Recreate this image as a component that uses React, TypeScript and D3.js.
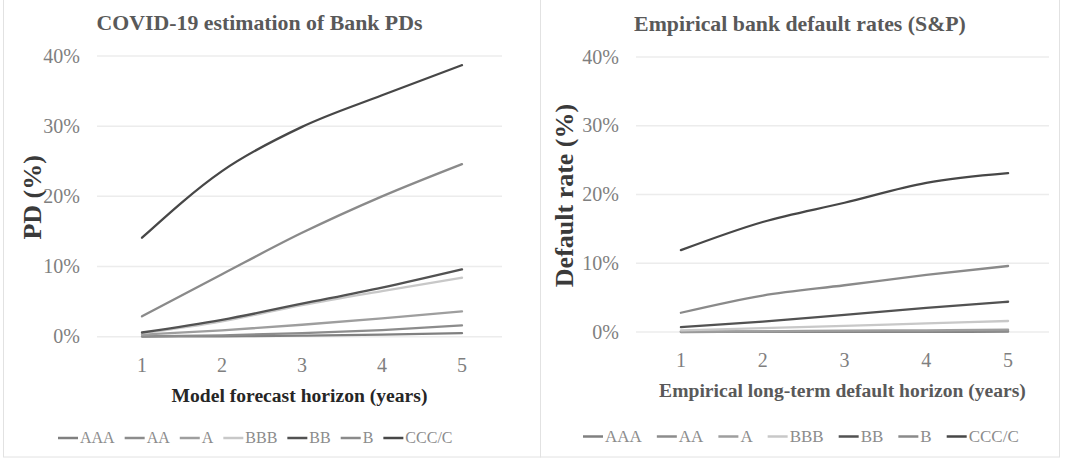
import React from 'react';
import * as d3 from 'd3';

// --- data read off the picture (values in %) ---
const horizons = [1, 2, 3, 4, 5];
const ratings = ['AAA', 'AA', 'A', 'BBB', 'BB', 'B', 'CCC/C'];
const ratingColors = ['#808080', '#8c8c8c', '#9e9e9e', '#c8c8c8', '#525252', '#8a8a8a', '#474747'];
const yTicks = [0, 10, 20, 30, 40];

// COVID-19 model PDs
const modelAAA = [0.02, 0.06, 0.15, 0.3, 0.5];
const modelAA = [0.05, 0.2, 0.5, 0.95, 1.6];
const modelA = [0.3, 0.9, 1.7, 2.6, 3.6];
const modelBBB = [0.5, 2.2, 4.5, 6.5, 8.4];
const modelBB = [0.6, 2.4, 4.7, 7.0, 9.6];
const modelB = [2.9, 8.9, 14.8, 20.0, 24.6];
const modelCCC = [14.1, 23.6, 29.9, 34.4, 38.7];

// S&P empirical default rates
const spAAA = [0.0, 0.01, 0.02, 0.03, 0.05];
const spAA = [0.02, 0.05, 0.08, 0.1, 0.15];
const spA = [0.05, 0.1, 0.2, 0.25, 0.35];
const spBBB = [0.25, 0.55, 0.9, 1.25, 1.6];
const spBB = [0.7, 1.5, 2.5, 3.5, 4.4];
const spB = [2.8, 5.3, 6.8, 8.3, 9.6];
const spCCC = [11.9, 16.0, 18.8, 21.7, 23.1];

const modelSeries = [modelAAA, modelAA, modelA, modelBBB, modelBB, modelB, modelCCC];
const spSeries = [spAAA, spAA, spA, spBBB, spBB, spB, spCCC];

const SERIF = "'Liberation Serif', 'Times New Roman', serif";

function textWidth(txt: string, font: string) {
  const ctx = document.createElement('canvas').getContext('2d');
  if (!ctx) return txt.length * 8;
  ctx.font = font;
  return ctx.measureText(txt).width;
}

interface PanelProps {
  series: number[][];
  title: string;
  titleX: number;
  titleY: number;
  yTitle: string;
  yTitleX: number;
  xTitle: string;
  xTitleColor: string;
  gridLeft: number;
  gridRight: number;
  plotLeft: number;
  y0: number;
  y40: number;
  legendX: number;
  legendY: number;
  legendSize: number;
  legendGap: number;
}

function Panel(p: PanelProps) {
  const x = d3.scalePoint<number>().domain(horizons).range([p.plotLeft, p.gridRight]).padding(0.5);
  const y = d3.scaleLinear().domain([0, 40]).range([p.y0, p.y40]);
  const line = d3.line<number>()
    .x((_, i) => x(horizons[i]) ?? 0)
    .y(d => y(d))
    .curve(d3.curveMonotoneX);
  const cx = (p.gridLeft + p.gridRight) / 2;

  const legendFont = `${p.legendSize}px ${SERIF}`;
  let lx = p.legendX;
  const legendItems = ratings.map((r, i) => {
    const item = { r, i, x: lx };
    lx += 22 + textWidth(r, legendFont) + p.legendGap;
    return item;
  });

  return (
    <g fontFamily={SERIF}>
      <text x={p.titleX} y={p.titleY} textAnchor="middle" fontSize={21.8} fontWeight="bold" fill="#595959">{p.title}</text>
      {yTicks.map(t => (
        <g key={t}>
          <line x1={p.gridLeft} x2={p.gridRight} y1={y(t)} y2={y(t)} stroke="#ececec" strokeWidth={1.5} />
          <text x={p.gridLeft - 17} y={y(t) + 6.5} textAnchor="end" fontSize={20} fill="#7f7f7f">{t}%</text>
        </g>
      ))}
      {horizons.map(h => (
        <text key={h} x={x(h)} y={p.y0 + 35} textAnchor="middle" fontSize={20} fill="#7f7f7f">{h}</text>
      ))}
      <text x={cx} y={p.y0 + 65} textAnchor="middle" fontSize={19.6} fontWeight="bold" fill={p.xTitleColor}>{p.xTitle}</text>
      <text transform={`translate(${p.yTitleX},${(p.y0 + p.y40) / 2 + 1}) rotate(-90)`} textAnchor="middle" fontSize={26} fontWeight="bold" fill="#3a3a3a">{p.yTitle}</text>
      {p.series.map((s, i) => (
        <path key={ratings[i]} d={line(s) || ''} fill="none" stroke={ratingColors[i]} strokeWidth={2.3} strokeLinecap="round" />
      ))}
      {legendItems.map(it => (
        <g key={it.r}>
          <line x1={it.x} x2={it.x + 20} y1={p.legendY - 5} y2={p.legendY - 5} stroke={ratingColors[it.i]} strokeWidth={2.5} />
          <text x={it.x + 22} y={p.legendY} fontSize={p.legendSize} fill="#8c8c8c">{it.r}</text>
        </g>
      ))}
    </g>
  );
}

export default function App() {
  return (
    <svg width={1092} height={458} style={{ position: 'absolute', left: 0, top: 0, background: '#fff' }}>
      <rect x={3.5} y={-2} width={537} height={459} fill="none" stroke="#e2e2e2" />
      <rect x={540.5} y={-2} width={519} height={459} fill="none" stroke="#e2e2e2" />
      <Panel
        series={modelSeries}
        title="COVID-19 estimation of Bank PDs"
        titleX={259.5}
        titleY={30}
        yTitle="PD  (%)"
        yTitleX={41}
        xTitle="Model forecast horizon (years)"
        xTitleColor="#262626"
        gridLeft={97}
        gridRight={502}
        plotLeft={102}
        y0={336.7}
        y40={56}
        legendX={58}
        legendY={443}
        legendSize={16}
        legendGap={10}
      />
      <Panel
        series={spSeries}
        title="Empirical bank default rates (S&P)"
        titleX={800}
        titleY={31}
        yTitle="Default rate (%)"
        yTitleX={573}
        xTitle="Empirical long-term default horizon (years)"
        xTitleColor="#595959"
        gridLeft={636}
        gridRight={1049}
        plotLeft={640}
        y0={332}
        y40={57}
        legendX={583}
        legendY={441.5}
        legendSize={17}
        legendGap={15}
      />
    </svg>
  );
}
